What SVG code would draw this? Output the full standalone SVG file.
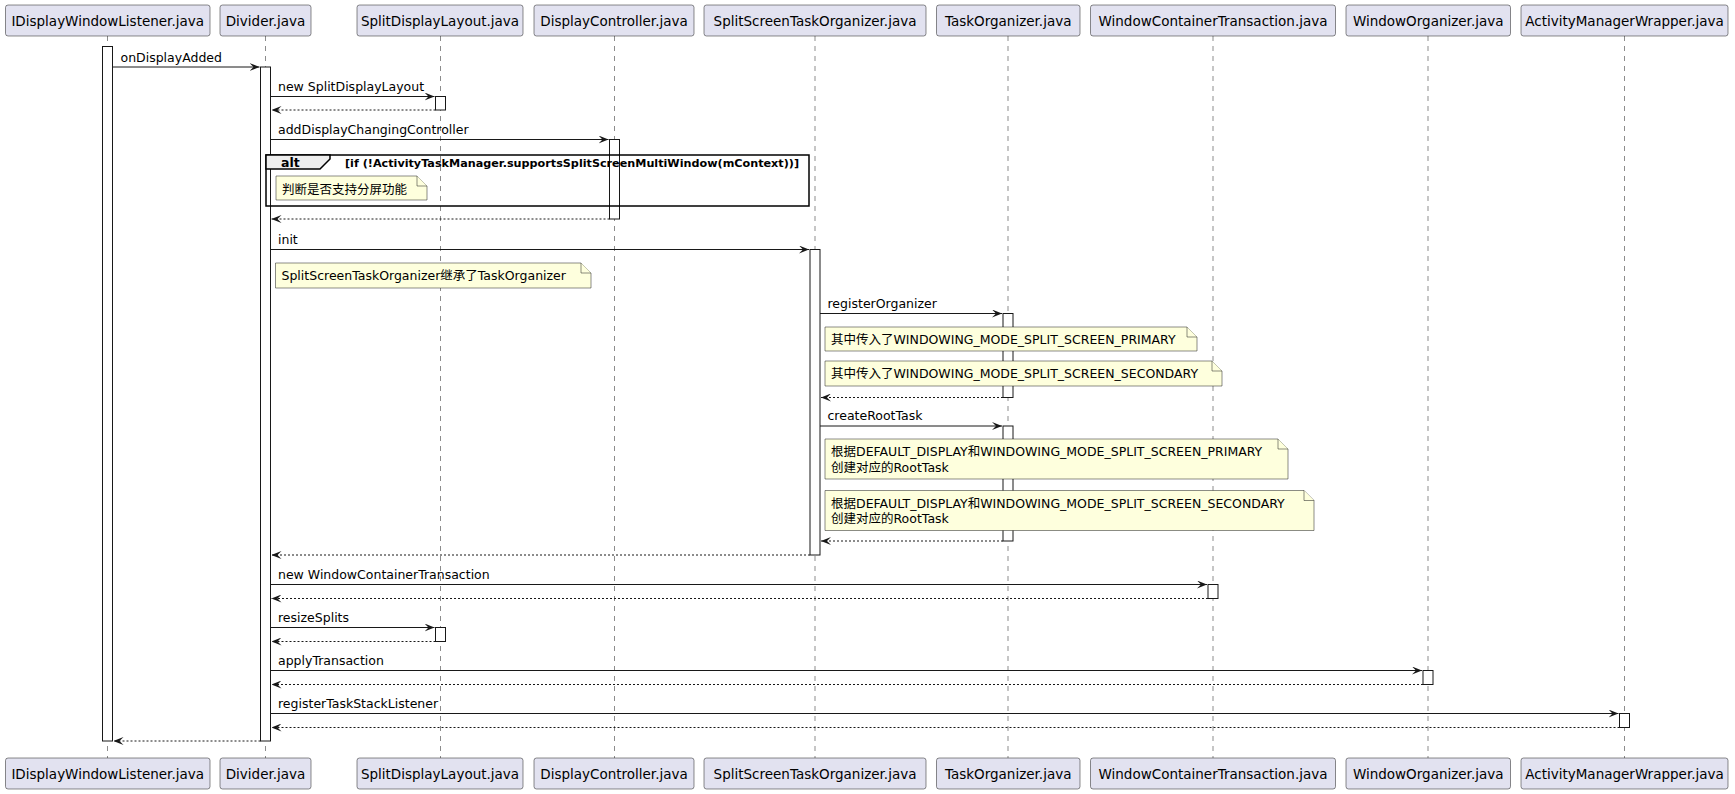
<svg xmlns="http://www.w3.org/2000/svg" width="1735" height="794" viewBox="0 0 1735 794">
<style>
.bg{fill:#FFFFFF}
.box{fill:#E2E2F0;stroke:#181818;stroke-width:0.5}
.pt{font-family:"DejaVu Sans","Noto Sans CJK SC",sans-serif;font-size:13.5px;fill:#000;text-anchor:middle}
.life{stroke:#181818;stroke-width:0.5;stroke-dasharray:5,5;fill:none}
.act{fill:#FFFFFF;stroke:#181818;stroke-width:1}
.msg{stroke:#181818;stroke-width:1;fill:none}
.ret{stroke:#181818;stroke-width:1;fill:none;stroke-dasharray:2,2}
.mt{font-family:"DejaVu Sans","Noto Sans CJK SC",sans-serif;font-size:12.5px;fill:#000}
.note path{fill:#FEFFDD;stroke:#181818;stroke-width:0.5}
.nt{font-family:"DejaVu Sans","Noto Sans CJK SC",sans-serif;font-size:12.5px;fill:#000}
.frame{fill:none;stroke:#000;stroke-width:1.5}
.tab{fill:#EEEEEE;stroke:#000;stroke-width:1.5}
.ft{font-family:"DejaVu Sans","Noto Sans CJK SC",sans-serif;font-weight:bold;fill:#000}
</style>
<defs>
<marker id="ah" viewBox="0 0 10 8" markerWidth="10" markerHeight="8" refX="10" refY="4" orient="auto" markerUnits="userSpaceOnUse">
<path d="M0,0 L10,4 L0,8 L4,4 Z" fill="#181818"/>
</marker>
</defs>
<rect class="bg" x="0" y="0" width="1735" height="794"/>

<g id="lifelines">
<line class="life" x1="107.5" y1="36" x2="107.5" y2="758"/>
<line class="life" x1="265.5" y1="36" x2="265.5" y2="758"/>
<line class="life" x1="440.5" y1="36" x2="440.5" y2="758"/>
<line class="life" x1="614.5" y1="36" x2="614.5" y2="758"/>
<line class="life" x1="815" y1="36" x2="815" y2="758"/>
<line class="life" x1="1008" y1="36" x2="1008" y2="758"/>
<line class="life" x1="1213" y1="36" x2="1213" y2="758"/>
<line class="life" x1="1428" y1="36" x2="1428" y2="758"/>
<line class="life" x1="1624.5" y1="36" x2="1624.5" y2="758"/>
</g>

<g id="p-IDisplayWindowListener">
<rect class="box" x="5.5" y="5" width="204.5" height="31" rx="2.5"/><text class="pt" x="107.7" y="25.5">IDisplayWindowListener.java</text>
<rect class="box" x="5.5" y="758" width="204.5" height="31" rx="2.5"/><text class="pt" x="107.7" y="778.5">IDisplayWindowListener.java</text>
<rect class="act" x="102.5" y="46.5" width="10" height="694.5"/>
</g>
<g id="p-Divider">
<rect class="box" x="220" y="5" width="91" height="31" rx="2.5"/><text class="pt" x="265.5" y="25.5">Divider.java</text>
<rect class="box" x="220" y="758" width="91" height="31" rx="2.5"/><text class="pt" x="265.5" y="778.5">Divider.java</text>
<rect class="act" x="260.5" y="67" width="10" height="674"/>
</g>
<g id="p-SplitDisplayLayout">
<rect class="box" x="357" y="5" width="166" height="31" rx="2.5"/><text class="pt" x="440" y="25.5">SplitDisplayLayout.java</text>
<rect class="box" x="357" y="758" width="166" height="31" rx="2.5"/><text class="pt" x="440" y="778.5">SplitDisplayLayout.java</text>
<rect class="act" x="435.5" y="96.5" width="10" height="13.5"/>
<rect class="act" x="435.5" y="627.5" width="10" height="14"/>
</g>
<g id="p-DisplayController">
<rect class="box" x="534" y="5" width="160" height="31" rx="2.5"/><text class="pt" x="614" y="25.5">DisplayController.java</text>
<rect class="box" x="534" y="758" width="160" height="31" rx="2.5"/><text class="pt" x="614" y="778.5">DisplayController.java</text>
<rect class="act" x="609.5" y="139.5" width="10" height="79.5"/>
</g>
<g id="p-SplitScreenTaskOrganizer">
<rect class="box" x="704" y="5" width="222" height="31" rx="2.5"/><text class="pt" x="815" y="25.5">SplitScreenTaskOrganizer.java</text>
<rect class="box" x="704" y="758" width="222" height="31" rx="2.5"/><text class="pt" x="815" y="778.5">SplitScreenTaskOrganizer.java</text>
<rect class="act" x="810" y="249.5" width="10" height="305.5"/>
</g>
<g id="p-TaskOrganizer">
<rect class="box" x="936.5" y="5" width="143.5" height="31" rx="2.5"/><text class="pt" x="1008.2" y="25.5">TaskOrganizer.java</text>
<rect class="box" x="936.5" y="758" width="143.5" height="31" rx="2.5"/><text class="pt" x="1008.2" y="778.5">TaskOrganizer.java</text>
<rect class="act" x="1003" y="313.5" width="10" height="84"/>
<rect class="act" x="1003" y="426" width="10" height="115"/>
</g>
<g id="p-WindowContainerTransaction">
<rect class="box" x="1090.5" y="5" width="245" height="31" rx="2.5"/><text class="pt" x="1213" y="25.5">WindowContainerTransaction.java</text>
<rect class="box" x="1090.5" y="758" width="245" height="31" rx="2.5"/><text class="pt" x="1213" y="778.5">WindowContainerTransaction.java</text>
<rect class="act" x="1208" y="584.5" width="10" height="14"/>
</g>
<g id="p-WindowOrganizer">
<rect class="box" x="1346" y="5" width="164.5" height="31" rx="2.5"/><text class="pt" x="1428.2" y="25.5">WindowOrganizer.java</text>
<rect class="box" x="1346" y="758" width="164.5" height="31" rx="2.5"/><text class="pt" x="1428.2" y="778.5">WindowOrganizer.java</text>
<rect class="act" x="1423" y="670.5" width="10" height="14"/>
</g>
<g id="p-ActivityManagerWrapper">
<rect class="box" x="1521" y="5" width="207" height="31" rx="2.5"/><text class="pt" x="1624.5" y="25.5">ActivityManagerWrapper.java</text>
<rect class="box" x="1521" y="758" width="207" height="31" rx="2.5"/><text class="pt" x="1624.5" y="778.5">ActivityManagerWrapper.java</text>
<rect class="act" x="1619.5" y="713.5" width="10" height="14"/>
</g>

<g id="alt-frame">
<rect class="frame" x="266" y="155" width="543" height="51"/>
<path class="tab" d="M266,155 L330,155 L330,159 L320,169 L266,169 Z"/>
<text class="ft" x="281" y="167" font-size="12.5px">alt</text>
<text class="ft" x="345" y="166.5" font-size="11.2px">[if (!ActivityTaskManager.supportsSplitScreenMultiWindow(mContext))]</text>
</g>

<g id="notes">
<g id="note-1" class="note">
<path d="M276,176 L417,176 L427,186 L427,200 L276,200 Z"/><path d="M417,176 L417,186 L427,186"/>
<text class="nt" x="282" y="193.5">判断是否支持分屏功能</text>
</g>
<g id="note-2" class="note">
<path d="M275.5,263 L581,263 L591,273 L591,288 L275.5,288 Z"/><path d="M581,263 L581,273 L591,273"/>
<text class="nt" x="281.5" y="280">SplitScreenTaskOrganizer继承了TaskOrganizer</text>
</g>
<g id="note-3" class="note">
<path d="M825,327 L1187,327 L1197,337 L1197,351 L825,351 Z"/><path d="M1187,327 L1187,337 L1197,337"/>
<text class="nt" x="831" y="343.5">其中传入了WINDOWING_MODE_SPLIT_SCREEN_PRIMARY</text>
</g>
<g id="note-4" class="note">
<path d="M825,361 L1212,361 L1222,371 L1222,386 L825,386 Z"/><path d="M1212,361 L1212,371 L1222,371"/>
<text class="nt" x="831" y="378">其中传入了WINDOWING_MODE_SPLIT_SCREEN_SECONDARY</text>
</g>
<g id="note-5" class="note">
<path d="M825,439 L1278,439 L1288,449 L1288,479 L825,479 Z"/><path d="M1278,439 L1278,449 L1288,449"/>
<text class="nt" x="831" y="456">根据DEFAULT_DISPLAY和WINDOWING_MODE_SPLIT_SCREEN_PRIMARY</text>
<text class="nt" x="831" y="471.5">创建对应的RootTask</text>
</g>
<g id="note-6" class="note">
<path d="M825,490.5 L1304,490.5 L1314,500.5 L1314,530.5 L825,530.5 Z"/><path d="M1304,490.5 L1304,500.5 L1314,500.5"/>
<text class="nt" x="831" y="507.5">根据DEFAULT_DISPLAY和WINDOWING_MODE_SPLIT_SCREEN_SECONDARY</text>
<text class="nt" x="831" y="523">创建对应的RootTask</text>
</g>
</g>

<g id="connectors">
<line class="msg" x1="112.5" y1="67" x2="259.5" y2="67" marker-end="url(#ah)"/>
<text class="mt" x="120.5" y="61.5">onDisplayAdded</text>
<line class="msg" x1="270.5" y1="96.5" x2="434.5" y2="96.5" marker-end="url(#ah)"/>
<text class="mt" x="278" y="91">new SplitDisplayLayout</text>
<line class="ret" x1="435.5" y1="110" x2="271.5" y2="110" marker-end="url(#ah)"/>
<line class="msg" x1="270.5" y1="139.5" x2="608.5" y2="139.5" marker-end="url(#ah)"/>
<text class="mt" x="278" y="134">addDisplayChangingController</text>
<line class="ret" x1="609.5" y1="219" x2="271.5" y2="219" marker-end="url(#ah)"/>
<line class="msg" x1="270.5" y1="249.5" x2="809" y2="249.5" marker-end="url(#ah)"/>
<text class="mt" x="278" y="243.5">init</text>
<line class="msg" x1="820" y1="313.5" x2="1002" y2="313.5" marker-end="url(#ah)"/>
<text class="mt" x="827.5" y="307.5">registerOrganizer</text>
<line class="ret" x1="1003" y1="397.5" x2="821" y2="397.5" marker-end="url(#ah)"/>
<line class="msg" x1="820" y1="426" x2="1002" y2="426" marker-end="url(#ah)"/>
<text class="mt" x="827.5" y="420">createRootTask</text>
<line class="ret" x1="1003" y1="541" x2="821" y2="541" marker-end="url(#ah)"/>
<line class="ret" x1="810" y1="555" x2="271.5" y2="555" marker-end="url(#ah)"/>
<line class="msg" x1="270.5" y1="584.5" x2="1207" y2="584.5" marker-end="url(#ah)"/>
<text class="mt" x="278" y="578.5">new WindowContainerTransaction</text>
<line class="ret" x1="1208" y1="598.5" x2="271.5" y2="598.5" marker-end="url(#ah)"/>
<line class="msg" x1="270.5" y1="627.5" x2="434.5" y2="627.5" marker-end="url(#ah)"/>
<text class="mt" x="278" y="621.5">resizeSplits</text>
<line class="ret" x1="435.5" y1="641.5" x2="271.5" y2="641.5" marker-end="url(#ah)"/>
<line class="msg" x1="270.5" y1="670.5" x2="1422" y2="670.5" marker-end="url(#ah)"/>
<text class="mt" x="278" y="664.5">applyTransaction</text>
<line class="ret" x1="1423" y1="684.5" x2="271.5" y2="684.5" marker-end="url(#ah)"/>
<line class="msg" x1="270.5" y1="713.5" x2="1618.5" y2="713.5" marker-end="url(#ah)"/>
<text class="mt" x="278" y="707.5">registerTaskStackListener</text>
<line class="ret" x1="1619.5" y1="727.5" x2="271.5" y2="727.5" marker-end="url(#ah)"/>
<line class="ret" x1="260.5" y1="741" x2="113.5" y2="741" marker-end="url(#ah)"/>
</g>
</svg>
